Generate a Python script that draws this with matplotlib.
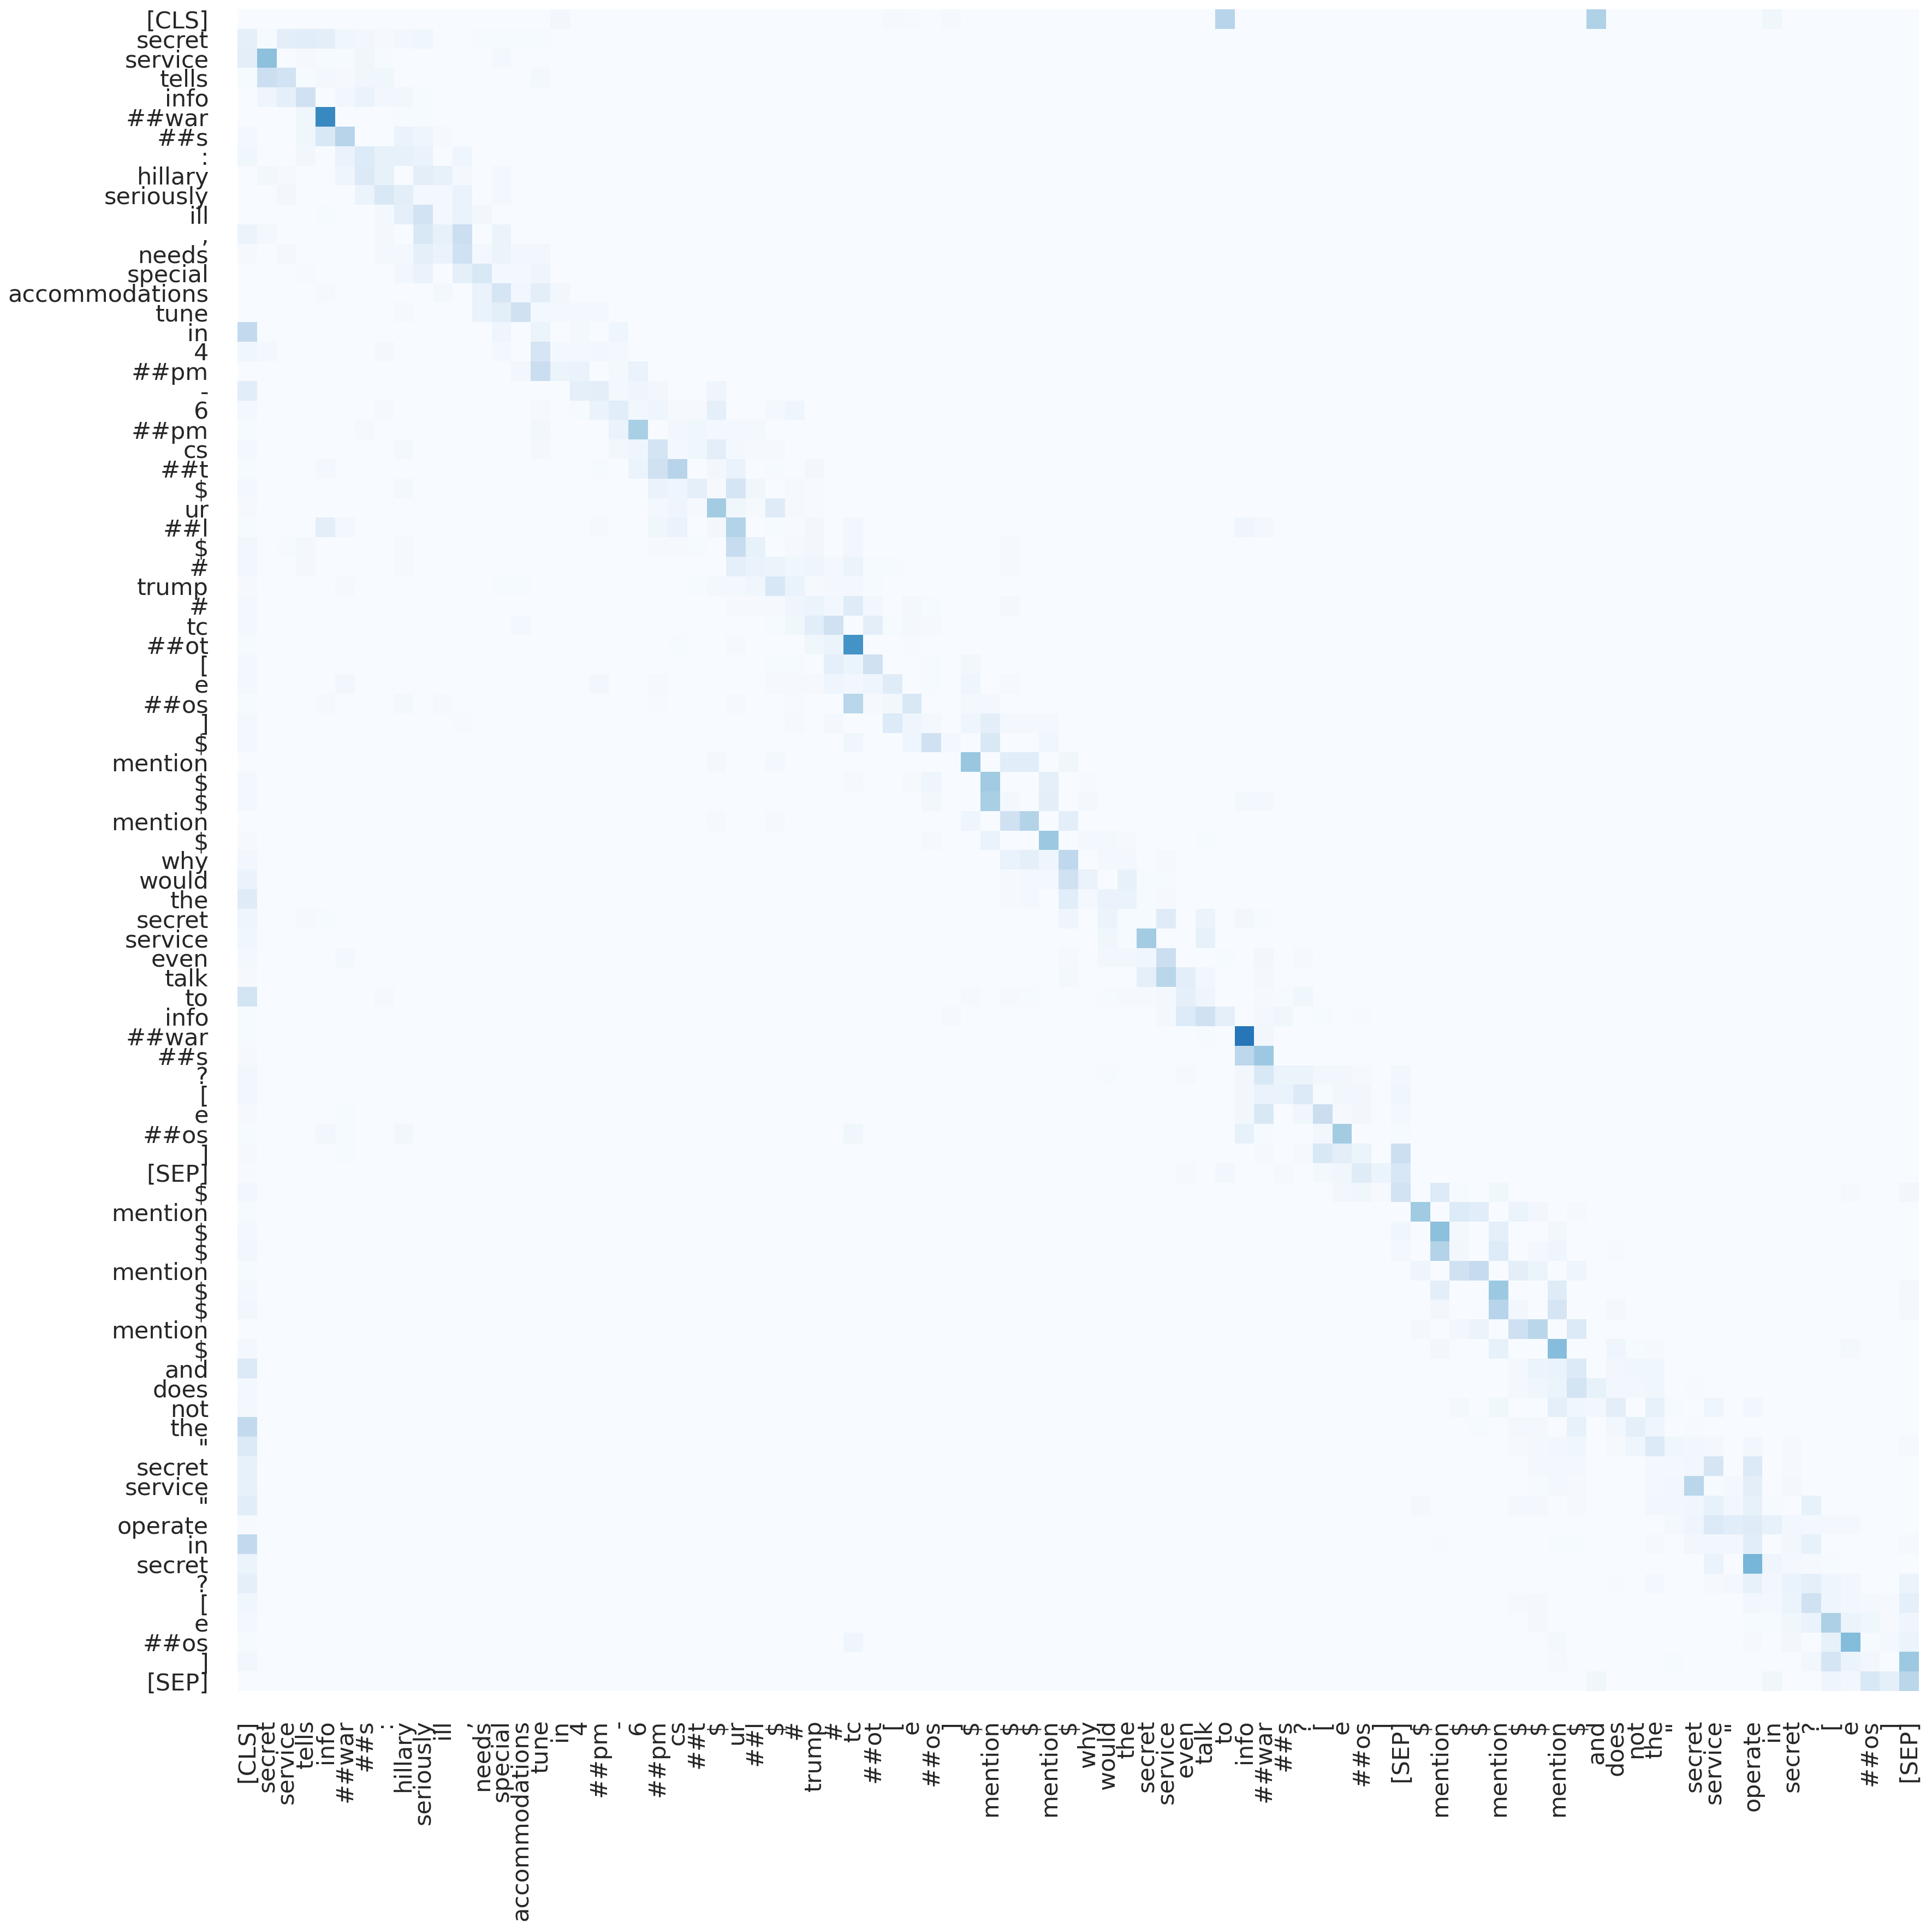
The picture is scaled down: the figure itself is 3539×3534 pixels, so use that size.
import matplotlib
matplotlib.use('Agg')
import matplotlib.pyplot as plt
import numpy as np
import seaborn as sns

tokens = ['[CLS]', 'secret', 'service', 'tells', 'info', '##war', '##s', ':', 'hillary', 'seriously', 'ill', ',',
          'needs', 'special', 'accommodations', 'tune', 'in', '4', '##pm', '-', '6', '##pm', 'cs', '##t', '$', 'ur',
          '##l', '$', '#', 'trump', '#', 'tc', '##ot', '[', 'e', '##os', ']', '$', 'mention', '$', '$', 'mention', '$',
          'why', 'would', 'the', 'secret', 'service', 'even', 'talk', 'to', 'info', '##war', '##s', '?', '[', 'e',
          '##os', ']', '[SEP]', '$', 'mention', '$', '$', 'mention', '$', '$', 'mention', '$', 'and', 'does', 'not',
          'the', '"', 'secret', 'service', '"', 'operate', 'in', 'secret', '?', '[', 'e', '##os', ']', '[SEP]']

# attention weights, one line per row, everything else is ~0
row_cols = [
    [16, 33, 34, 36, 50, 69, 78],
    [0, 1, 2, 3, 4, 5, 6, 7, 8, 9, 12, 13, 14, 15],
    [0, 1, 3, 4, 5, 6, 7, 13],
    [0, 1, 2, 3, 4, 5, 6, 7, 15],
    [1, 2, 3, 5, 6, 7, 8, 9],
    [3, 4, 8, 9],
    [0, 3, 4, 5, 8, 9, 10],
    [0, 3, 5, 6, 7, 8, 9, 11],
    [1, 2, 5, 6, 7, 9, 10, 11, 13],
    [2, 6, 7, 8, 9, 10, 11, 13],
    [4, 7, 8, 9, 10, 11, 12],
    [0, 1, 7, 9, 10, 11, 13],
    [0, 2, 7, 8, 9, 10, 11, 12, 13, 14, 15],
    [3, 8, 9, 11, 12, 13, 14, 15],
    [4, 10, 12, 13, 14, 15, 16],
    [8, 12, 13, 14, 15, 16, 17, 18],
    [0, 13, 15, 17, 19],
    [0, 1, 7, 13, 15, 16, 17, 18, 19],
    [14, 15, 16, 17, 19, 20],
    [0, 17, 18, 19, 20, 21, 24],
    [0, 7, 15, 17, 18, 19, 20, 21, 22, 23, 24, 27, 28],
    [0, 6, 15, 19, 20, 22, 23, 24, 25, 26],
    [0, 8, 15, 19, 20, 21, 22, 23, 24, 25, 26, 27],
    [0, 4, 18, 20, 21, 22, 24, 25, 27, 29],
    [0, 8, 21, 22, 23, 24, 25, 26, 28, 29],
    [0, 21, 22, 23, 24, 25, 26, 27, 28, 29],
    [0, 4, 5, 18, 21, 22, 24, 25, 27, 28, 29, 31, 51, 52],
    [0, 2, 3, 8, 21, 22, 23, 25, 26, 28, 29, 31, 39],
    [0, 3, 8, 25, 26, 27, 28, 29, 30, 31, 32, 33, 39],
    [0, 5, 13, 14, 23, 24, 25, 26, 27, 28, 29, 30, 31, 32],
    [0, 25, 26, 27, 28, 29, 30, 31, 32, 34, 35, 39],
    [0, 14, 27, 28, 29, 30, 32, 33, 34, 35],
    [0, 22, 25, 29, 30, 31, 34],
    [0, 27, 28, 30, 31, 32, 35, 37],
    [0, 5, 18, 21, 27, 28, 29, 30, 31, 32, 33, 35, 37, 39],
    [0, 4, 8, 10, 21, 25, 28, 31, 32, 33, 34, 37, 38],
    [0, 11, 28, 30, 33, 34, 35, 37, 38, 39, 40, 41],
    [0, 31, 34, 35, 36, 38, 41],
    [24, 27, 37, 39, 40, 42],
    [0, 31, 34, 35, 38, 41, 43],
    [0, 35, 38, 39, 41, 43, 51, 52],
    [24, 27, 37, 39, 40, 42],
    [0, 35, 38, 41, 43, 44, 45, 49],
    [0, 39, 40, 41, 42, 44, 45, 47],
    [0, 39, 40, 41, 42, 43, 45, 46, 47],
    [0, 39, 40, 42, 43, 44, 45, 46, 47],
    [0, 3, 4, 42, 44, 45, 46, 47, 49, 51, 52],
    [0, 44, 45, 46, 49],
    [0, 5, 42, 44, 45, 46, 47, 50, 52, 54],
    [0, 42, 46, 47, 48, 49, 52],
    [0, 7, 37, 39, 40, 44, 45, 46, 47, 48, 49, 52, 53, 54],
    [0, 36, 47, 48, 49, 50, 52, 53, 55, 57],
    [0, 49, 51, 52],
    [0, 51, 52],
    [0, 44, 48, 51, 52, 53, 54, 55, 56, 57, 59],
    [0, 51, 52, 53, 54, 55, 56, 57, 59],
    [0, 5, 51, 52, 54, 55, 56, 57, 59],
    [0, 4, 5, 8, 31, 51, 52, 55, 56, 59],
    [0, 5, 52, 54, 55, 56, 57, 59],
    [0, 48, 50, 53, 55, 56, 57, 58, 59],
    [0, 56, 57, 58, 59, 61, 62, 64, 82, 85],
    [0, 60, 62, 63, 65, 66, 68],
    [0, 59, 61, 62, 64, 67],
    [0, 59, 61, 62, 64, 66, 67, 70],
    [0, 60, 62, 63, 65, 66, 68],
    [0, 61, 64, 67, 85],
    [0, 61, 64, 65, 67, 70, 85],
    [60, 62, 63, 65, 66, 68],
    [0, 61, 64, 67, 70, 71, 72, 82],
    [0, 65, 66, 67, 68, 70, 71, 72],
    [0, 65, 66, 67, 68, 69, 70, 71, 72, 74],
    [0, 62, 64, 67, 68, 69, 70, 72, 73, 75, 77],
    [0, 63, 65, 66, 68, 70, 71, 72, 74],
    [0, 65, 66, 67, 68, 70, 71, 72, 73, 74, 75, 77, 79, 85],
    [0, 66, 67, 68, 72, 73, 74, 75, 77, 79],
    [0, 66, 67, 68, 72, 73, 74, 75, 76, 77, 79],
    [0, 60, 65, 66, 68, 72, 73, 74, 75, 76, 77, 78, 80],
    [0, 73, 74, 75, 76, 77, 78, 79, 80, 81, 82],
    [0, 61, 67, 68, 72, 74, 75, 76, 77, 79, 80, 85],
    [0, 75, 77, 78, 79, 80, 81],
    [0, 70, 72, 75, 76, 77, 78, 79, 80, 81, 82, 85],
    [0, 65, 66, 77, 78, 79, 80, 81, 82, 83, 84, 85],
    [0, 66, 77, 78, 79, 80, 81, 82, 83, 84, 85],
    [0, 31, 67, 77, 79, 81, 82, 83, 84, 85],
    [0, 67, 73, 80, 81, 82, 83, 85],
    [69, 78, 81, 82, 83, 84, 85],
]

row_vals = [
    [.03, .012, .01, .012, .30, .32, .04],
    [.09, .01, .10, .11, .10, .04, .03, .015, .03, .04, .01, .01, .01, .01],
    [.10, .42, .015, .01, .01, .04, .01, .02],
    [.01, .22, .19, .01, .02, .015, .04, .04, .025],
    [.05, .09, .20, .03, .07, .03, .03, .01],
    [.04, .66, .01, .01],
    [.02, .04, .15, .30, .07, .05, .015],
    [.04, .03, .07, .13, .08, .08, .07, .05],
    [.03, .015, .05, .14, .08, .10, .08, .02, .02],
    [.03, .06, .15, .10, .02, .02, .07, .02],
    [.01, .02, .09, .19, .02, .07, .03],
    [.06, .02, .02, .15, .08, .22, .06],
    [.015, .02, .02, .02, .09, .07, .20, .02, .06, .03, .03],
    [.01, .03, .07, .09, .15, .02, .02, .05],
    [.015, .02, .07, .17, .03, .10, .03],
    [.015, .07, .10, .20, .02, .02, .02, .02],
    [.26, .05, .06, .02, .05],
    [.04, .02, .02, .02, .17, .02, .02, .03, .02],
    [.03, .23, .06, .07, .02, .07],
    [.11, .09, .10, .025, .05, .03, .05],
    [.025, .015, .015, .01, .07, .11, .03, .05, .015, .015, .09, .02, .05],
    [.01, .015, .03, .07, .34, .03, .04, .02, .02, .02],
    [.025, .02, .02, .03, .05, .18, .02, .04, .10, .02, .015, .015],
    [.01, .02, .01, .06, .20, .30, .03, .07, .01, .03],
    [.025, .02, .07, .05, .09, .015, .17, .04, .015, .01],
    [.015, .02, .05, .015, .36, .04, .015, .12, .015, .01],
    [.01, .10, .025, .015, .04, .07, .03, .31, .01, .005, .03, .03, .05, .02],
    [.03, .01, .02, .015, .015, .015, .01, .24, .08, .015, .03, .03, .015],
    [.03, .02, .015, .09, .07, .06, .04, .05, .02, .06, .01, .01, .015],
    [.015, .015, .01, .01, .01, .02, .02, .04, .16, .07, .015, .02, .02, .01],
    [.02, .015, .015, .015, .05, .06, .03, .12, .03, .02, .01, .025],
    [.02, .02, .01, .04, .11, .20, .10, .01, .02, .015],
    [.01, .01, .015, .04, .055, .62, .01],
    [.02, .01, .01, .09, .06, .20, .01, .03],
    [.025, .03, .03, .015, .015, .015, .015, .05, .03, .05, .12, .01, .05, .015],
    [.01, .015, .025, .015, .01, .015, .005, .29, .015, .035, .15, .02, .02],
    [.025, .01, .015, .025, .13, .05, .02, .05, .10, .02, .02, .02],
    [.025, .04, .05, .20, .02, .15, .04],
    [.02, .02, .39, .11, .11, .04],
    [.02, .015, .015, .05, .37, .09, .01],
    [.02, .03, .34, .02, .10, .02, .02, .02],
    [.015, .015, .05, .20, .31, .10],
    [.015, .015, .07, .38, .02, .02, .015, .01],
    [.03, .07, .09, .05, .27, .02, .02, .015],
    [.07, .015, .02, .02, .20, .07, .08, .01, .01],
    [.12, .015, .02, .11, .02, .07, .07, .01, .015],
    [.05, .015, .01, .05, .06, .01, .01, .12, .06, .03, .01],
    [.04, .04, .01, .36, .08],
    [.02, .025, .015, .03, .03, .04, .22, .01, .035, .015],
    [.015, .025, .09, .29, .10, .03, .025],
    [.18, .015, .015, .015, .01, .01, .015, .015, .02, .09, .05, .015, .01, .04],
    [.01, .015, .025, .13, .20, .09, .02, .04, .01, .01],
    [.01, .01, .73, .03],
    [.015, .28, .38],
    [.035, .01, .015, .03, .15, .06, .06, .03, .03, .015, .03],
    [.03, .03, .07, .07, .14, .01, .03, .03, .04],
    [.015, .01, .03, .15, .04, .23, .015, .03, .02],
    [.01, .03, .01, .035, .04, .08, .01, .03, .36, .01],
    [.015, .01, .015, .015, .15, .10, .06, .22],
    [.005, .015, .03, .015, .02, .04, .12, .06, .16],
    [.03, .03, .04, .015, .19, .13, .01, .04, .015, .03],
    [.01, .37, .13, .11, .06, .03, .015],
    [.025, .04, .42, .02, .09, .03],
    [.03, .02, .31, .03, .13, .02, .05, .01],
    [.01, .05, .20, .25, .10, .06, .05],
    [.02, .10, .38, .12, .02],
    [.035, .03, .30, .03, .17, .02, .02],
    [.02, .03, .06, .21, .29, .14],
    [.02, .03, .08, .43, .05, .01, .015, .02],
    [.14, .025, .06, .07, .14, .03, .04, .04],
    [.02, .02, .04, .06, .18, .08, .03, .03, .04, .01],
    [.025, .02, .04, .09, .04, .03, .10, .08, .01, .05, .03],
    [.26, .01, .02, .02, .08, .035, .09, .05, .01],
    [.14, .015, .02, .03, .04, .015, .05, .14, .04, .035, .025, .03, .015, .015],
    [.08, .02, .02, .02, .02, .025, .03, .17, .14, .015],
    [.08, .01, .02, .015, .02, .035, .29, .01, .02, .10, .02],
    [.11, .02, .02, .02, .015, .03, .03, .04, .08, .03, .08, .01, .08],
    [.005, .02, .05, .14, .11, .12, .08, .03, .02, .02, .02],
    [.26, .01, .01, .01, .015, .03, .03, .03, .11, .03, .08, .015],
    [.06, .07, .47, .05, .02, .015, .01],
    [.09, .01, .02, .015, .02, .08, .03, .07, .09, .05, .03, .06],
    [.04, .015, .02, .03, .02, .06, .20, .05, .03, .02, .015, .09],
    [.025, .02, .01, .01, .04, .07, .33, .06, .04, .015, .05],
    [.01, .05, .02, .015, .03, .08, .44, .01, .02, .06],
    [.03, .015, .01, .03, .17, .06, .03, .38],
    [.04, .04, .05, .03, .15, .09, .29],
]

attn = np.zeros((len(tokens), len(tokens)))
for r, (cols, vals) in enumerate(zip(row_cols, row_vals)):
    attn[r, cols] = vals

fig = plt.figure(figsize=(3539 / 200, 3534 / 200), dpi=200)
ax = fig.add_axes([435 / 3539, 1 - 3098 / 3534, 3080 / 3539, 3081 / 3534])

sns.heatmap(attn, ax=ax, cmap='Blues', vmin=0, vmax=1, cbar=False,
            xticklabels=tokens, yticklabels=tokens)
ax.tick_params(axis='both', length=0, pad=19, labelsize=15.5, labelcolor='#262626')
plt.setp(ax.get_xticklabels(), rotation=90)
plt.setp(ax.get_yticklabels(), rotation=0, va='center_baseline')

fig.savefig('out.png', dpi=200)
